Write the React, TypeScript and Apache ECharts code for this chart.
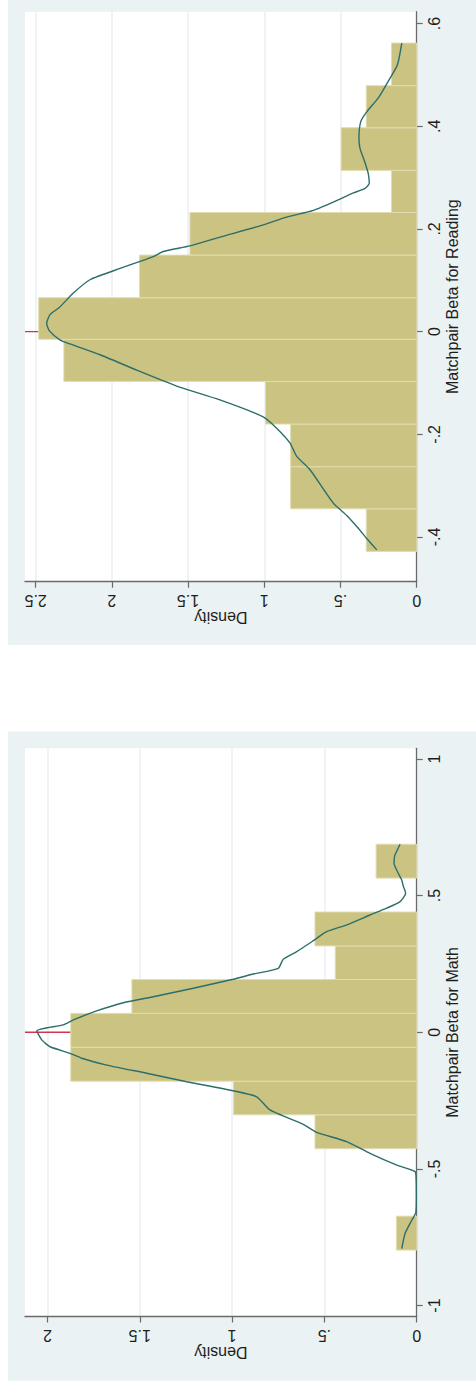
import { useEffect, useRef } from "react";
import * as echarts from "echarts";

// ---- Reading panel data ----
const readingBinEdges = [-0.428, -0.345, -0.263, -0.18, -0.097, -0.015, 0.066, 0.149, 0.232, 0.314, 0.397, 0.479, 0.562];
const readingDensity = [0.331, 0.827, 0.827, 0.992, 2.315, 2.48, 1.819, 1.488, 0.165, 0.496, 0.331, 0.165];
const readingKdeBeta = [
  -0.425, -0.403, -0.383, -0.358, -0.334, -0.269, -0.243, -0.217, -0.188, -0.166, -0.133, -0.106, -0.075,
  -0.045, -0.024, -0.016, 0.002, 0.016, 0.033, 0.047, 0.075, 0.101, 0.123, 0.146, 0.156, 0.167, 0.184,
  0.206, 0.223, 0.236, 0.258, 0.27, 0.279, 0.289, 0.308, 0.329, 0.357, 0.377, 0.409, 0.428, 0.455, 0.488,
  0.519, 0.562,
];
const readingKdeDensity = [
  0.262, 0.328, 0.383, 0.459, 0.547, 0.7, 0.787, 0.831, 0.919, 1.007, 1.291, 1.575, 1.837,
  2.078, 2.275, 2.341, 2.411, 2.428, 2.406, 2.345, 2.253, 2.144, 1.947, 1.728, 1.663, 1.488, 1.291,
  1.028, 0.853, 0.678, 0.503, 0.416, 0.339, 0.311, 0.318, 0.339, 0.372, 0.379, 0.367, 0.328, 0.252, 0.186,
  0.127, 0.098,
];
const readingBetaTicks = [-0.4, -0.2, 0, 0.2, 0.4, 0.6];
const readingDensityTicks = [0, 0.5, 1, 1.5, 2, 2.5];
const readingBetaRange = [-0.487, 0.623];
const readingDensityMax = 2.57;

// ---- Math panel data ----
const mathBinEdges = [-0.797, -0.673, -0.55, -0.426, -0.302, -0.179, -0.055, 0.069, 0.193, 0.316, 0.44, 0.564, 0.688];
const mathDensity = [0.11, 0, 0, 0.551, 0.992, 1.874, 1.874, 1.543, 0.441, 0.551, 0, 0.22];
const mathKdeBeta = [
  -0.792, -0.736, -0.688, -0.66, -0.6, -0.54, -0.51, -0.486, -0.443, -0.4, -0.366, -0.337, -0.284, -0.236,
  -0.214, -0.181, -0.15, -0.12, -0.095, -0.077, -0.053, -0.028, 0.005, 0.027, 0.045, 0.078, 0.108, 0.13,
  0.161, 0.194, 0.213, 0.234, 0.267, 0.295, 0.335, 0.368, 0.393, 0.429, 0.454, 0.478, 0.509, 0.535, 0.557,
  0.582, 0.618, 0.649, 0.688,
];
const mathKdeDensity = [
  0.081, 0.063, 0.027, 0.005, 0.002, 0.003, 0.009, 0.108, 0.253, 0.379, 0.542, 0.614, 0.795, 0.867,
  0.994, 1.246, 1.463, 1.679, 1.815, 1.878, 1.986, 2.031, 2.058, 1.914, 1.86, 1.734, 1.589, 1.427,
  1.21, 0.994, 0.885, 0.75, 0.723, 0.65, 0.56, 0.488, 0.379, 0.253, 0.163, 0.09, 0.06, 0.073, 0.081,
  0.1, 0.123, 0.118, 0.09,
];
const mathBetaTicks = [-1, -0.5, 0, 0.5, 1];
const mathDensityTicks = [0, 0.5, 1, 1.5, 2];
const mathBetaRange = [-1.04, 1.039];
const mathDensityMax = 2.122;

const BG = "#EAF2F3";
const BAR = "#CBC382";
const BAR_EDGE = "#E2DCB0";
const KDE = "#2C6E6B";
const RED = "#D3344F";
const AXIS = "#6A6A6A";
const TEXT = "#1E1E1E";
const FONT = "Liberation Sans, Arial, Helvetica, sans-serif";
const FS = 16;

const stataFmt = (v: number) => {
  if (v === 0) return "0";
  const s = String(Math.round(v * 1000) / 1000);
  return s.replace(/^(-?)0\./, "$1.");
};

function panel(
  idx: number,
  title: string,
  edges: number[],
  dens: number[],
  kdeBeta: number[],
  kdeDens: number[],
  betaTicks: number[],
  densTicks: number[],
  betaRange: number[],
  densMax: number
) {
  const binData = dens.map((d, i) => [edges[i], edges[i + 1], d]);
  const kdeData = kdeBeta.map((b, i) => [kdeDens[i], b]);
  const xAxis = {
    gridIndex: idx,
    type: "value",
    inverse: true,
    min: 0,
    max: densMax,
    position: "bottom",
    name: "Density",
    nameLocation: "middle",
    nameGap: 28,
    nameRotate: 180,
    nameMoveOverlap: false,
    nameTextStyle: { color: TEXT, fontSize: FS, fontFamily: FONT },
    axisLine: { show: true, onZero: false, lineStyle: { color: AXIS, width: 1.3 } },
    axisTick: { show: true, length: 6, customValues: densTicks, lineStyle: { color: AXIS, width: 1.2 } },
    axisLabel: {
      show: true,
      rotate: 180,
      margin: 11,
      customValues: densTicks,
      formatter: stataFmt,
      color: TEXT,
      fontSize: FS,
      fontFamily: FONT,
    },
    splitLine: { show: true, lineStyle: { color: BG, width: 1.6 } },
  };
  const yAxis = {
    gridIndex: idx,
    type: "value",
    min: betaRange[0],
    max: betaRange[1],
    position: "right",
    name: title,
    nameLocation: "middle",
    nameGap: 28,
    nameMoveOverlap: false,
    nameTextStyle: { color: TEXT, fontSize: FS, fontFamily: FONT },
    axisLine: { show: true, onZero: false, lineStyle: { color: AXIS, width: 1.3 } },
    axisTick: { show: true, length: 6, customValues: betaTicks, lineStyle: { color: AXIS, width: 1.2 } },
    axisLabel: {
      show: true,
      rotate: 90,
      margin: 10,
      customValues: betaTicks,
      formatter: stataFmt,
      color: TEXT,
      fontSize: FS,
      fontFamily: FONT,
    },
    splitLine: { show: false },
  };
  const series = [
    {
      type: "line",
      name: "zero" + idx,
      xAxisIndex: idx,
      yAxisIndex: idx,
      data: [
        [0, 0],
        [densMax, 0],
      ],
      showSymbol: false,
      silent: true,
      z: 1,
      lineStyle: { color: RED, width: 1.3 },
    },
    {
      type: "custom",
      name: "hist" + idx,
      xAxisIndex: idx,
      yAxisIndex: idx,
      z: 2,
      encode: { x: 2, y: [0, 1] },
      data: binData,
      renderItem: (_params: any, api: any) => {
        const s = api.value(0);
        const e = api.value(1);
        const d = api.value(2);
        if (!d) return null;
        const p0 = api.coord([0, s]);
        const p1 = api.coord([d, e]);
        return {
          type: "rect",
          shape: {
            x: Math.min(p0[0], p1[0]),
            y: Math.min(p0[1], p1[1]),
            width: Math.abs(p1[0] - p0[0]),
            height: Math.abs(p1[1] - p0[1]),
          },
          style: { fill: BAR, stroke: BAR_EDGE, lineWidth: 1 },
        };
      },
    },
    {
      type: "line",
      name: "kde" + idx,
      xAxisIndex: idx,
      yAxisIndex: idx,
      z: 3,
      data: kdeData,
      showSymbol: false,
      smooth: 0.2,
      lineStyle: { color: KDE, width: 1.4 },
    },
  ];
  return { xAxis, yAxis, series };
}

export default function App() {
  const ref = useRef<HTMLDivElement>(null);
  useEffect(() => {
    if (!ref.current) return;
    const chart = echarts.init(ref.current, undefined, { renderer: "svg" });
    const p1 = panel(
      0,
      "Matchpair Beta for Reading",
      readingBinEdges,
      readingDensity,
      readingKdeBeta,
      readingKdeDensity,
      readingBetaTicks,
      readingDensityTicks,
      readingBetaRange,
      readingDensityMax
    );
    const p2 = panel(
      1,
      "Matchpair Beta for Math",
      mathBinEdges,
      mathDensity,
      mathKdeBeta,
      mathKdeDensity,
      mathBetaTicks,
      mathDensityTicks,
      mathBetaRange,
      mathDensityMax
    );
    chart.setOption({
      animation: false,
      backgroundColor: "#ffffff",
      textStyle: { fontFamily: FONT },
      graphic: [
        { type: "rect", z: -10, silent: true, shape: { x: 8, y: 0, width: 468, height: 645 }, style: { fill: BG } },
        { type: "rect", z: -10, silent: true, shape: { x: 8, y: 731.5, width: 468, height: 649.3 }, style: { fill: BG } },
      ],
      grid: [
        { left: 25, top: 11.7, width: 391.7, height: 570, show: true, backgroundColor: "#ffffff", borderWidth: 0 },
        { left: 25, top: 748.3, width: 391.7, height: 568.2, show: true, backgroundColor: "#ffffff", borderWidth: 0 },
      ],
      xAxis: [p1.xAxis, p2.xAxis],
      yAxis: [p1.yAxis, p2.yAxis],
      series: [...p1.series, ...p2.series],
    });
    return () => chart.dispose();
  }, []);
  return (
    <div
      ref={ref}
      style={{ position: "fixed", left: 0, top: 0, width: 476, height: 1387, background: "#fff" }}
    />
  );
}
